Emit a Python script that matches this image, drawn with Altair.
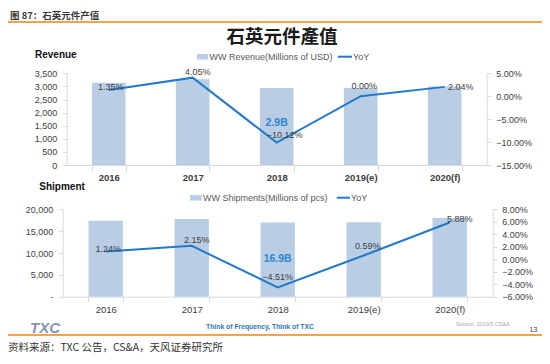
import altair as alt
import pandas as pd

# ---------------- data ----------------
years = ["2016", "2017", "2018", "2019(e)", "2020(f)"]
revenue = [3140, 3270, 2940, 2940, 3000]              # Millions of USD
revenue_yoy = [0.0135, 0.0405, -0.1012, 0.0000, 0.0204]
shipments = [17390, 17770, 16970, 17020, 17990]       # Millions of pcs
shipment_yoy = [0.0124, 0.0215, -0.0451, 0.0059, 0.0588]
highlights = ["2.9B", "16.9B"]

revenue_ticks = [0, 500, 1000, 1500, 2000, 2500, 3000, 3500]
revenue_yoy_ticks = [-0.15, -0.10, -0.05, 0.0, 0.05]
shipment_ticks = [0, 5000, 10000, 15000, 20000]
shipment_yoy_ticks = [-0.06, -0.04, -0.02, 0.0, 0.02, 0.04, 0.06, 0.08]

# ---------------- styles ----------------
W, H = 534, 348
FONT = "Liberation Sans"
CJK = "Noto Sans CJK SC"
BAR = "#B9CDE5"
LINE = "#2179C8"
TXT = "#404040"
AXC = "#D9D9D9"
ORANGE = "#F3A250"
HILITE = "#2E86D0"

top_df = pd.DataFrame({"year": years, "value": revenue, "yoy": revenue_yoy})
bot_df = pd.DataFrame({"year": years, "value": shipments, "yoy": shipment_yoy})

panels = [
    dict(df=top_df, x_range=[58.7, 478.7], y_range=[157, 65.3],
         v_dom=[0, 3500], v_ticks=revenue_ticks,
         v_expr="format(datum.value, ',')",
         p_dom=[-0.15, 0.05], p_ticks=revenue_yoy_ticks,
         left_off=-58.7, right_off=-55.3, x_off=-191,
         x_bold="bold", x_tick=6, x_pad=1.5, left_pad=6, right_pad=5,
         label_offsets=[(2, -3.5), (5, -5.5), (8, -7.5), (3.5, -10.5), (16, 0)],
         hl=highlights[0], hl_y=115.3),
    dict(df=bot_df, x_range=[54.7, 484.7], y_range=[288.7, 201.3],
         v_dom=[0, 20000], v_ticks=shipment_ticks,
         v_expr="datum.value == 0 ? '-\u00a0\u00a0' : format(datum.value, ',')",
         p_dom=[-0.06, 0.08], p_ticks=shipment_yoy_ticks,
         left_off=-54.7, right_off=-49.3, x_off=-59.3,
         x_bold="normal", x_tick=5, x_pad=3, left_pad=6, right_pad=5,
         label_offsets=[(2.5, -3), (5, -6), (0, -10.5), (4, -10), (10, -3.5)],
         hl=highlights[1], hl_y=251),
]


def xenc(p, axis=None):
    return alt.X("year:N", sort=years, title=None,
                 scale=alt.Scale(domain=years, range=p["x_range"],
                                 paddingInner=0.6, paddingOuter=0.3),
                 axis=axis)


def vscale(p):
    return alt.Scale(domain=p["v_dom"], range=p["y_range"], nice=False, zero=False)


def pscale(p):
    return alt.Scale(domain=p["p_dom"], range=p["y_range"], nice=False, zero=False)


layers = []
for p in panels:
    df = p["df"]
    bars = alt.Chart(df).mark_bar(color=BAR).encode(
        x=xenc(p, alt.Axis(orient="bottom", offset=p["x_off"], tickBand="extent",
                           tickSize=p["x_tick"], labelPadding=p["x_pad"],
                           labelFontWeight=p["x_bold"], labelFontSize=9.5,
                           labelAngle=0)),
        y=alt.Y("value:Q", title=None, scale=vscale(p),
                axis=alt.Axis(orient="left", offset=p["left_off"], values=p["v_ticks"],
                              labelExpr=p["v_expr"], tickSize=4,
                              labelPadding=p["left_pad"])),
    )
    line = alt.Chart(df).mark_line(color=LINE, strokeWidth=2).encode(
        x=xenc(p),
        y=alt.Y("yoy:Q", title=None, scale=pscale(p),
                axis=alt.Axis(orient="right", offset=p["right_off"], values=p["p_ticks"],
                              format=".2%", tickSize=4, labelPadding=p["right_pad"])),
    )
    layers += [bars, line]
    for i, (dx, dy) in enumerate(p["label_offsets"]):
        lab = alt.Chart(df.iloc[[i]]).mark_text(
            dx=dx, dy=dy, font=FONT, fontSize=9, color=TXT
        ).encode(
            x=xenc(p),
            y=alt.Y("yoy:Q", scale=pscale(p), axis=None),
            text=alt.Text("yoy:Q", format=".2%"),
        )
        layers.append(lab)
    hl_df = df.iloc[[2]].assign(note=p["hl"])
    layers.append(
        alt.Chart(hl_df).mark_text(font=FONT, fontSize=10.5, fontWeight="bold",
                                   color=HILITE).encode(
            x=xenc(p), y=alt.value(p["hl_y"]), text="note:N")
    )


def stxt(text, x, y, **kw):
    return alt.Chart(pd.DataFrame({"t": [text]})).mark_text(**kw).encode(
        text="t:N", x=alt.value(x), y=alt.value(y))


def rule(x1, x2, y, color, width):
    return alt.Chart(pd.DataFrame({"a": [0]})).mark_rule(
        color=color, strokeWidth=width).encode(
        x=alt.value(x1), x2=alt.value(x2), y=alt.value(y))


def swatch(x1, x2, y1, y2, color):
    return alt.Chart(pd.DataFrame({"a": [0]})).mark_rect(color=color).encode(
        x=alt.value(x1), x2=alt.value(x2), y=alt.value(y1), y2=alt.value(y2))


decor = [
    stxt("图 87：石英元件产值", 2, 7.6, font=CJK, fontSize=9.5, fontWeight="bold",
         color="#3A3A3A", align="left", baseline="middle"),
    rule(0, W, 14, ORANGE, 2),
    stxt("石英元件產值", 274, 28.5, font="Noto Sans CJK TC", fontSize=18.5,
         fontWeight="bold", color="#1A1A1A", align="center"),
    # top legend / title
    stxt("Revenue", 27, 47, font=FONT, fontSize=10, fontWeight="bold",
         color="#111111", align="left"),
    swatch(189, 200, 46, 51.5, BAR),
    stxt("WW Revenue(Millions of USD)", 201.5, 48.7, font=FONT, fontSize=9,
         color="#595959", align="left"),
    rule(330, 344, 48.7, LINE, 2),
    stxt("YoY", 345, 48.7, font=FONT, fontSize=9, color="#595959", align="left"),
    # bottom legend / title
    stxt("Shipment", 31.3, 179.3, font=FONT, fontSize=10, fontWeight="bold",
         color="#111111", align="left"),
    swatch(182, 193.7, 187, 192.5, BAR),
    stxt("WW Shipments(Millions of pcs)", 195, 189.7, font=FONT, fontSize=9,
         color="#595959", align="left"),
    rule(328.7, 342, 189.7, LINE, 2),
    stxt("YoY", 343, 189.7, font=FONT, fontSize=9, color="#595959", align="left"),
    # footer
    stxt("TXC", 22, 320, font=FONT, fontSize=15, fontWeight="bold",
         fontStyle="italic", color="#8496B0", align="left"),
    stxt("Think of Frequency, Think of TXC", 252, 319.4, font=FONT, fontSize=6.8,
         fontWeight="bold", color="#2E75B6", align="center"),
    stxt("Source: 2019/5 CS&A", 448, 316, font=FONT, fontSize=5.5,
         color="#A6A6A6", align="left"),
    stxt("13", 525.5, 322, font=FONT, fontSize=7, color=TXT, align="center"),
    rule(0, W, 327, ORANGE, 2),
    stxt("资料来源：TXC 公告，CS&A，天风证券研究所", 0, 339.5, font=CJK,
         fontSize=10.5, color="#333333", align="left"),
]

chart = alt.layer(*layers, *decor).resolve_scale(
    x="independent", y="independent"
).properties(
    width=W, height=H, padding=0,
    autosize=alt.AutoSizeParams(type="none"),
    background="white",
).configure_view(
    strokeWidth=0
).configure_axis(
    grid=False, labelFont=FONT, labelFontSize=9, labelColor=TXT,
    domainColor=AXC, tickColor=AXC, domainWidth=1, tickWidth=1,
)

chart.save("out.html", embed_options={"renderer": "svg", "actions": False})
